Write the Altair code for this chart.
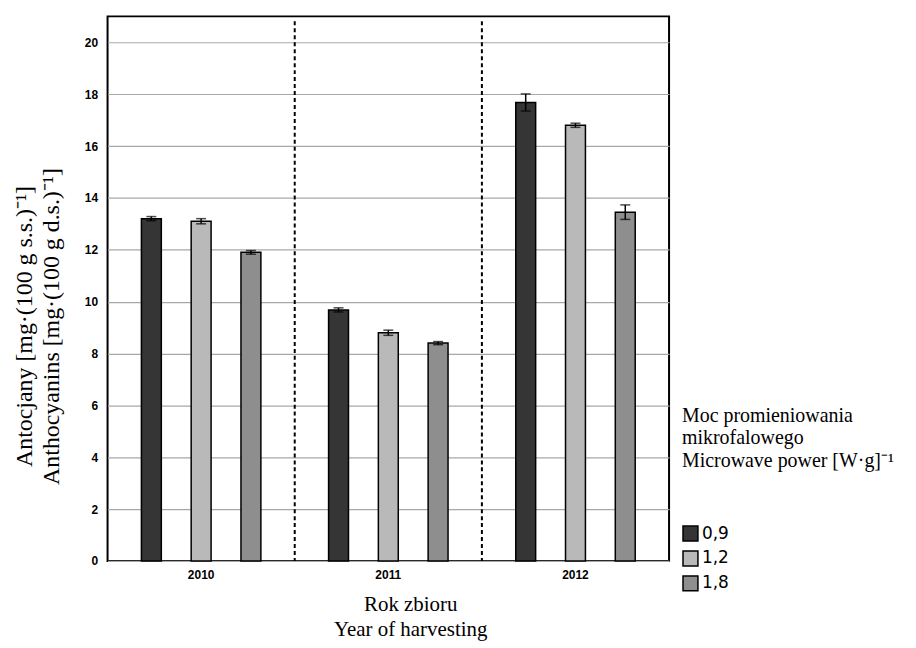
import altair as alt
import pandas as pd

# ---- data ----
years = ["2010", "2011", "2012"]
powers = ["0,9", "1,2", "1,8"]
mean_09 = [13.20, 9.68, 17.68]
mean_12 = [13.10, 8.80, 16.80]
mean_18 = [11.90, 8.40, 13.45]
err_09 = [0.08, 0.08, 0.33]
err_12 = [0.10, 0.10, 0.08]
err_18 = [0.07, 0.06, 0.28]
y_ticks = [0, 2, 4, 6, 8, 10, 12, 14, 16, 18, 20]
separators = ["2011", "2012"]
fills = ["#353535", "#b9b9b9", "#8e8e8e"]

rows = []
for p, means, errs in zip(powers, [mean_09, mean_12, mean_18], [err_09, err_12, err_18]):
    for yr, m, e in zip(years, means, errs):
        rows.append({"year": yr, "power": p, "value": m, "lo": m - e, "hi": m + e})
df = pd.DataFrame(rows)
sep_df = pd.DataFrame({"year": separators})

W, H = 564, 547
SERIF = "Liberation Serif"
SANS = "Liberation Sans"

x_scale = alt.Scale(domain=years, paddingInner=0, paddingOuter=0)
x_axis = alt.Axis(
    labelFont=SANS, labelFontSize=12, labelFontWeight="bold", labelColor="black",
    labelPadding=9, labelAngle=0, ticks=False, domain=False, grid=False,
    titleFont=SERIF, titleFontSize=21, titleFontWeight="normal", titleColor="black",
    titleLineHeight=25, titleX=304, titleY=33, titleBaseline="top",
)
x_title = ["Rok zbioru", "Year of harvesting"]


def xenc(**kw):
    return alt.X("year:N", scale=x_scale, axis=x_axis, title=x_title, **kw)


xoff = alt.XOffset("power:N", scale=alt.Scale(domain=powers, paddingInner=0.6, paddingOuter=0.68))

y_scale = alt.Scale(domain=[0, 21], nice=False, zero=True)
y_axis = alt.Axis(
    values=y_ticks, labelFont=SANS, labelFontSize=12, labelFontWeight="bold",
    labelColor="black", labelPadding=10, ticks=False, domain=False,
    grid=True, gridColor="#a8a8a8", gridWidth=1.2,
    titleFont=SERIF, titleFontSize=24, titleFontWeight="normal", titleColor="black",
    titleLineHeight=27, titleX=-95, titleY=311, titleBaseline="top", titleAngle=270,
)
y_title = ["Antocjany [mg·(100 g s.s.)⁻¹]", "Anthocyanins [mg·(100 g d.s.)⁻¹]"]


def yenc(field):
    return alt.Y(field, scale=y_scale, axis=y_axis, title=y_title)


base = alt.Chart(df)

bars = base.mark_bar(stroke="black", strokeWidth=1.5).encode(
    x=xenc(),
    xOffset=xoff,
    y=yenc("value:Q"),
    color=alt.Color(
        "power:N",
        scale=alt.Scale(domain=powers, range=fills),
        legend=alt.Legend(
            orient="none", legendX=577, legendY=391,
            title=["Moc promieniowania", "mikrofalowego", "Microwave power [W·g]⁻¹"],
            titleFont=SERIF, titleFontSize=20, titleFontWeight="normal", titleColor="black",
            titleLineHeight=23, titlePadding=54, titleLimit=400,
            labelFont="DejaVu Sans", labelFontSize=17, labelColor="black",
            symbolType="square", symbolSize=225, symbolStrokeColor="black",
            symbolStrokeWidth=1.5, symbolOpacity=1, rowPadding=4, labelOffset=3,
        ),
    ),
)

err_rule = base.mark_rule(color="black", strokeWidth=1.5).encode(
    x=xenc(), xOffset=xoff, y=yenc("lo:Q"), y2="hi:Q"
)
cap_hi = base.mark_tick(orient="horizontal", size=10, thickness=1.5, color="black").encode(
    x=xenc(), xOffset=xoff, y=yenc("hi:Q")
)
cap_lo = base.mark_tick(orient="horizontal", size=10, thickness=1.5, color="black").encode(
    x=xenc(), xOffset=xoff, y=yenc("lo:Q")
)

seps = alt.Chart(sep_df).mark_rule(color="black", strokeWidth=2, strokeDash=[4, 3]).encode(
    x=xenc(bandPosition=0),
    y=alt.value(5),
    y2=alt.value(H),
)

chart = (
    alt.layer(bars, err_rule, cap_lo, cap_hi, seps)
    .properties(
        width=W, height=H,
        autosize=alt.AutoSizeParams(type="none"),
        padding={"left": 100, "top": 7, "right": 240, "bottom": 80},
        background="white",
    )
    .configure_view(stroke="black", strokeWidth=2)
)

chart.save("out.html", embed_options={"renderer": "svg", "actions": False})
